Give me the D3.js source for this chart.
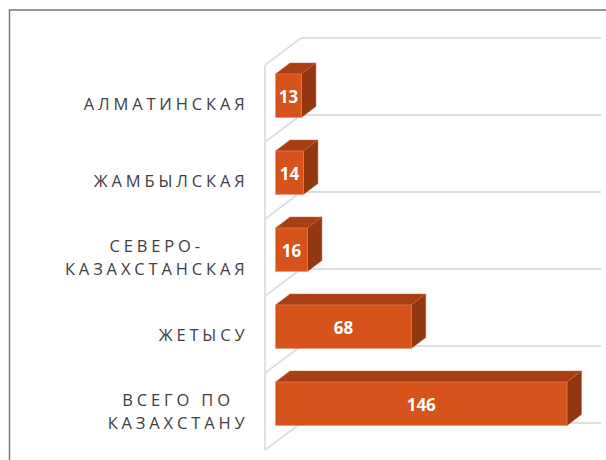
<!DOCTYPE html>
<html>
<head>
<meta charset="utf-8">
<script src="https://cdn.jsdelivr.net/npm/d3@7"></script>
<style>
html, body { margin: 0; padding: 0; background: #fff; }
svg { display: block; }
</style>
</head>
<body>
<div id="chart"></div>
<script>
// data
const categories = ["АЛМАТИНСКАЯ", "ЖАМБЫЛСКАЯ", "СЕВЕРО-\nКАЗАХСТАНСКАЯ", "ЖЕТЫСУ", "ВСЕГО ПО\nКАЗАХСТАНУ"];
const values = [13, 14, 16, 68, 146];

const width = 606, height = 460;
const depthX = 14.5, depthY = 11;   // bar depth offset
const wallX = 36, wallY = 27;       // wall depth offset

const svg = d3.select("#chart").append("svg")
    .attr("width", width)
    .attr("height", height);

// frame, open on the right and bottom like the screenshot
svg.append("path")
    .attr("d", "M9.5,460V10H606")
    .attr("fill", "none")
    .attr("stroke", "#777")
    .attr("stroke-width", 1.5);

const x = d3.scaleLinear().domain([0, 146]).range([275.5, 567]);
const y = d3.scaleBand().domain(categories).range([65, 450]);
const barTop = d => y(d) + 9;
const barH = 43.5;

// walls
const edges = y.domain().map(d => y(d)).concat(450);
const wallColor = "#dedede";
const grid = svg.append("g").attr("fill", "none").attr("stroke", wallColor).attr("stroke-width", 1.8);

grid.selectAll("line.back")
    .data(edges)
    .enter().append("line")
    .attr("class", "back")
    .attr("x1", 265 + wallX)
    .attr("x2", 601)
    .attr("y1", d => d - wallY)
    .attr("y2", d => d - wallY);

grid.selectAll("line.side")
    .data(edges)
    .enter().append("line")
    .attr("class", "side")
    .attr("x1", 265)
    .attr("x2", 265 + wallX)
    .attr("y1", d => d)
    .attr("y2", d => d - wallY);

grid.append("line")
    .attr("x1", 265).attr("x2", 265)
    .attr("y1", 65).attr("y2", 450);

// bars
const bars = svg.selectAll("g.bar")
    .data(categories.map((c, i) => ({ c, v: values[i] })))
    .enter().append("g")
    .attr("class", "bar");

bars.append("path")
    .attr("fill", "#a83f14")
    .attr("stroke", "#c9673f")
    .attr("stroke-width", 0.5)
    .attr("d", d => {
        const x0 = x(0), x1 = x(d.v), t = barTop(d.c);
        return `M${x0},${t}L${x0 + depthX},${t - depthY}H${x1 + depthX}L${x1},${t}Z`;
    });

bars.append("path")
    .attr("fill", "#923710")
    .attr("stroke", "#c9673f")
    .attr("stroke-width", 0.5)
    .attr("d", d => {
        const x1 = x(d.v), t = barTop(d.c);
        return `M${x1},${t}L${x1 + depthX},${t - depthY}V${t - depthY + barH}L${x1},${t + barH}Z`;
    });

bars.append("rect")
    .attr("x", x(0))
    .attr("y", d => barTop(d.c))
    .attr("width", d => x(d.v) - x(0))
    .attr("height", barH)
    .attr("fill", "#d6531b")
    .attr("stroke", "#e58a63")
    .attr("stroke-width", 0.5);

bars.append("text")
    .attr("x", d => (x(0) + x(d.v)) / 2)
    .attr("y", d => barTop(d.c) + barH / 2 + 1.5)
    .attr("dy", "0.35em")
    .attr("text-anchor", "middle")
    .attr("fill", "#fff")
    .style("font-family", "'Open Sans'")
    .style("font-weight", "700")
    .style("font-size", "17px")
    .text(d => d.v);

// category labels, wrapped lines are centred on each other
const labels = svg.selectAll("text.cat")
    .data(categories)
    .enter().append("text")
    .attr("class", "cat")
    .attr("fill", "#404040")
    .style("font-family", "'Open Sans'")
    .style("font-size", "16.5px")
    .style("letter-spacing", "3.85px")
    .attr("text-anchor", "middle");

labels.each(function(d) {
    const lines = d.split("\n");
    const el = d3.select(this);
    const spans = lines.map((s, i) => el.append("tspan").text(s)
        .attr("y", y(d) + 38.5 + (i - (lines.length - 1) / 2) * 23 + 6));
    const w = d3.max(spans, s => s.node().getComputedTextLength());
    spans.forEach(s => s.attr("x", 248.5 - w / 2));
});
</script>
</body>
</html>
